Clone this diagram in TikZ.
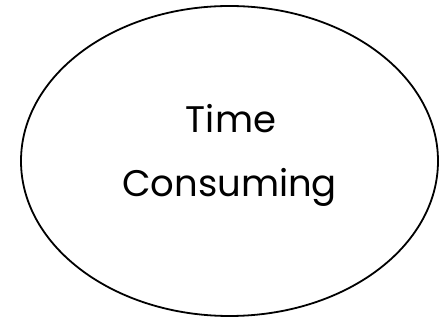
\documentclass[tikz,border=0pt]{standalone}
\usepackage{fontspec}
\setmainfont{Poppins}
\usetikzlibrary{shapes.geometric}
\tikzset{
  oval/.style={draw=black, ellipse, line width=1.8pt, inner sep=0pt, minimum width=417pt, minimum height=310pt},
  lbl/.style={font=\fontsize{37}{44}\selectfont, anchor=base, inner sep=0pt, text=black}
}
\begin{document}
\begin{tikzpicture}[x=1pt,y=-1pt]
\useasboundingbox (0,0) rectangle (439,320);
\node[oval] (e) at (229.5,161) {};
\node[lbl] (t1) at (231,133) {Time};
\node[lbl] (t2) at (229.5,197) {Consuming};
\end{tikzpicture}
\end{document}
